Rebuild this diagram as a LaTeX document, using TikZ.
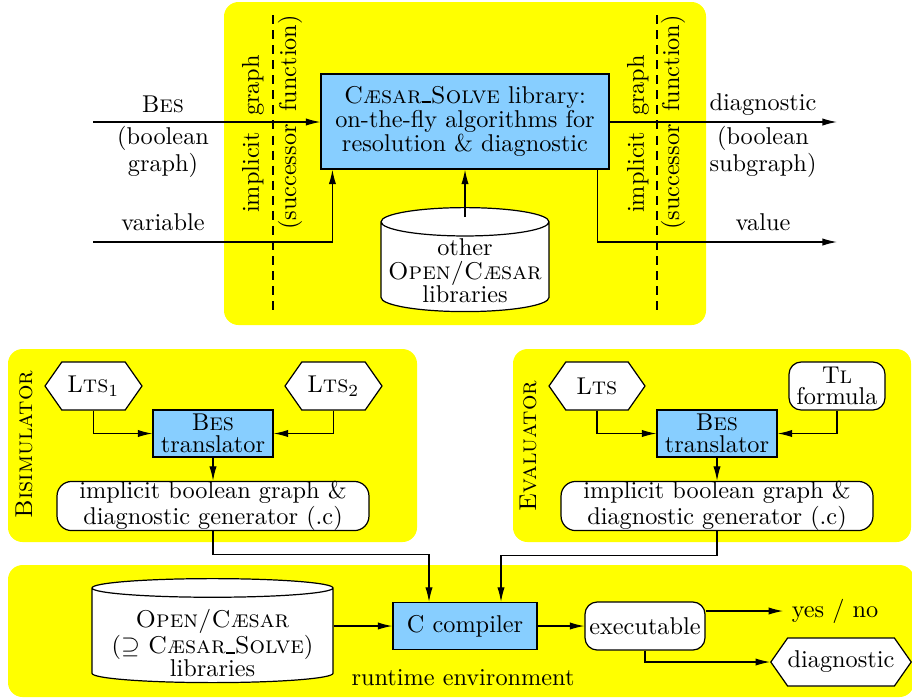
\documentclass[tikz,border=0pt]{standalone}
\usepackage{amssymb}
\usetikzlibrary{arrows.meta,shapes.geometric,shapes.symbols,calc}

\definecolor{panelyellow}{RGB}{255,255,0}
\definecolor{libblue}{RGB}{135,206,255}
\newcommand{\pix}{0.4115pt}
\newcommand{\tightfont}{\fontsize{10pt}{8.4pt}\selectfont}
\newcommand{\transfont}{\fontsize{10pt}{8.9pt}\selectfont}
\newcommand{\usc}{\rule{3.8pt}{0.8pt}}

\tikzset{
  >={Latex[length=6pt,width=3pt]},
  every node/.style={font=\fontsize{10pt}{9.7pt}\selectfont},
  panelbox/.style={fill=panelyellow, rounded corners=6pt},
  libbox/.style={draw, fill=libblue, line width=0.5pt, inner sep=0pt, align=center},
  roundbox/.style={draw, fill=white, line width=0.5pt, rounded corners=6pt, inner sep=0pt, align=center},
  hexbox/.style={draw, fill=white, line width=0.5pt, shape=signal, signal to=east and west, signal pointer angle=110, inner sep=0pt},
  cylbox/.style={draw, fill=white, line width=0.5pt, shape=cylinder, shape border rotate=90},
  cutline/.style={line width=0.8pt, dash pattern=on 3.7pt off 2.5pt},
  flow/.style={->, line width=0.5pt},
}

\begin{document}
\begin{tikzpicture}[x=0.01446cm, y=-0.01446cm]
\path[use as bounding box, clip] (0,0) rectangle (912,698);

% panels
\fill[panelbox] (224,2) rectangle (706,325);
\fill[panelbox] (8,349) rectangle (417,542);
\fill[panelbox] (513,349) rectangle (911,542);
\fill[panelbox] (8,565) rectangle (914,697);

% solver library
\draw[cutline] (273,15) -- (273,310);
\draw[cutline] (657,15) -- (657,310);
\node[rotate=90] (lgraph) at (253,134) {implicit\hspace{6.6pt}graph};
\node[rotate=90] (lsucc) at (290,122.5) {(successor\hspace{5.2pt}function)};
\node[rotate=90] (rgraph) at (638,134) {implicit\hspace{6.6pt}graph};
\node[rotate=90] (rsucc) at (673,122.5) {(successor\hspace{5.2pt}function)};
\node[libbox, minimum width=288*\pix, minimum height=95*\pix, font=\fontsize{10pt}{10pt}\selectfont] (solve) at (465,121.5)
  {\textsc{C\ae sar\usc Solve} library:\\on-the-fly algorithms for\\resolution \& diagnostic};
\node[cylbox, aspect=1.75, minimum width=168*\pix, minimum height=104*\pix, anchor=top] (otherlibs) at (465,207) {};
\node[align=center] (otherlibstext) at (465,271) {other\\\textsc{Open/C\ae sar}\\libraries};

\coordinate (besin) at (93,122);
\coordinate (varin) at (93,242);
\coordinate (diagout) at (837,122);
\coordinate (valout) at (837,242);
\node[anchor=base] (beslabel) at (163,112) {B\textsc{es}};
\node[align=center, font=\fontsize{10pt}{9pt}\selectfont] (boollabel) at (163,152) {(boolean\\graph)};
\node[anchor=base] (varlabel) at (163,230) {variable};
\node[anchor=base] (diaglabel) at (763,110) {diagnostic};
\node[align=center, font=\fontsize{10pt}{9pt}\selectfont] (sublabel) at (763,152) {(boolean\\subgraph)};
\node[anchor=base] (vallabel) at (763,230) {value};

\draw[flow] (besin) -- (besin -| solve.west);
\draw[flow] (varin) -| ($(solve.south west)+(12,0)$);
\draw[flow] ($(otherlibs.top)+(0,10)$) -- (otherlibs.top |- solve.south);
\draw[flow] (solve.east |- diagout) -- (diagout);
\draw[flow] ($(solve.south east)+(-12,0)$) |- (valout);

% bisimulator
\node[rotate=90] (bisim) at (24,444.5) {\textsc{Bisimulator}};
\node[hexbox, minimum width=97*\pix, minimum height=48*\pix] (lts1) at (93.5,386) {L\textsc{ts}$_1$};
\node[hexbox, minimum width=97*\pix, minimum height=48*\pix] (lts2) at (333.5,386) {L\textsc{ts}$_2$};
\node[libbox, minimum width=120*\pix, minimum height=47*\pix, font=\transfont] (bes1) at (213,433.5) {B\textsc{es}\\translator};
\node[roundbox, minimum width=312*\pix, minimum height=48*\pix, font=\tightfont] (gen1) at (213,506)
  {implicit boolean graph \&\\diagnostic generator (.c)};
\draw[flow] (lts1.south) |- (bes1.west);
\draw[flow] (lts2.south) |- (bes1.east);
\draw[flow] (bes1) -- (gen1);

% evaluator
\node[rotate=90] (evalr) at (528,446) {\textsc{Evaluator}};
\node[hexbox, minimum width=96*\pix, minimum height=48*\pix] (lts3) at (597,386) {L\textsc{ts}};
\node[roundbox, rounded corners=5pt, minimum width=96*\pix, minimum height=48*\pix, font=\tightfont] (tl) at (837,386) {T\textsc{l}\\formula};
\node[libbox, minimum width=120*\pix, minimum height=47*\pix, font=\transfont] (bes2) at (717,433.5) {B\textsc{es}\\translator};
\node[roundbox, minimum width=312*\pix, minimum height=48*\pix, font=\tightfont] (gen2) at (717,506)
  {implicit boolean graph \&\\diagnostic generator (.c)};
\draw[flow] (lts3.south) |- (bes2.west);
\draw[flow] (tl.south) |- (bes2.east);
\draw[flow] (bes2) -- (gen2);

% runtime
\node[cylbox, aspect=1.15, minimum width=241*\pix, minimum height=104*\pix, anchor=top] (libs) at (212.5,578) {};
\node[align=center, font=\fontsize{10pt}{9.5pt}\selectfont] (libstext) at (212.5,643)
  {\textsc{Open/C\ae sar}\\($\supseteq$ \textsc{C\ae sar\usc Solve})\\libraries};
\node[libbox, minimum width=144*\pix, minimum height=47*\pix] (cc) at (465,626) {C compiler};
\node[roundbox, rounded corners=5pt, minimum width=120*\pix, minimum height=48*\pix] (exe) at (645,626) {executable};
\node (yesno) at (835,611) {yes / no};
\node[hexbox, minimum width=126*\pix, minimum height=48*\pix] (diag) at (841,662) {diagnostic};
\node[anchor=base] (runtime) at (463,685) {runtime environment};

\draw[flow] (gen1.south) -- ++(0,23) -| ($(cc.north)+(-36,0)$);
\draw[flow] (gen2.south) -- ++(0,24) -| ($(cc.north)+(36,0)$);
\draw[flow] (libs.east |- cc.west) -- (cc.west);
\draw[flow] (cc) -- (exe);
\draw[flow] (exe.east |- yesno.west) -- (yesno.west);
\draw[flow] (exe.south) |- (diag.west);
\end{tikzpicture}
\end{document}
